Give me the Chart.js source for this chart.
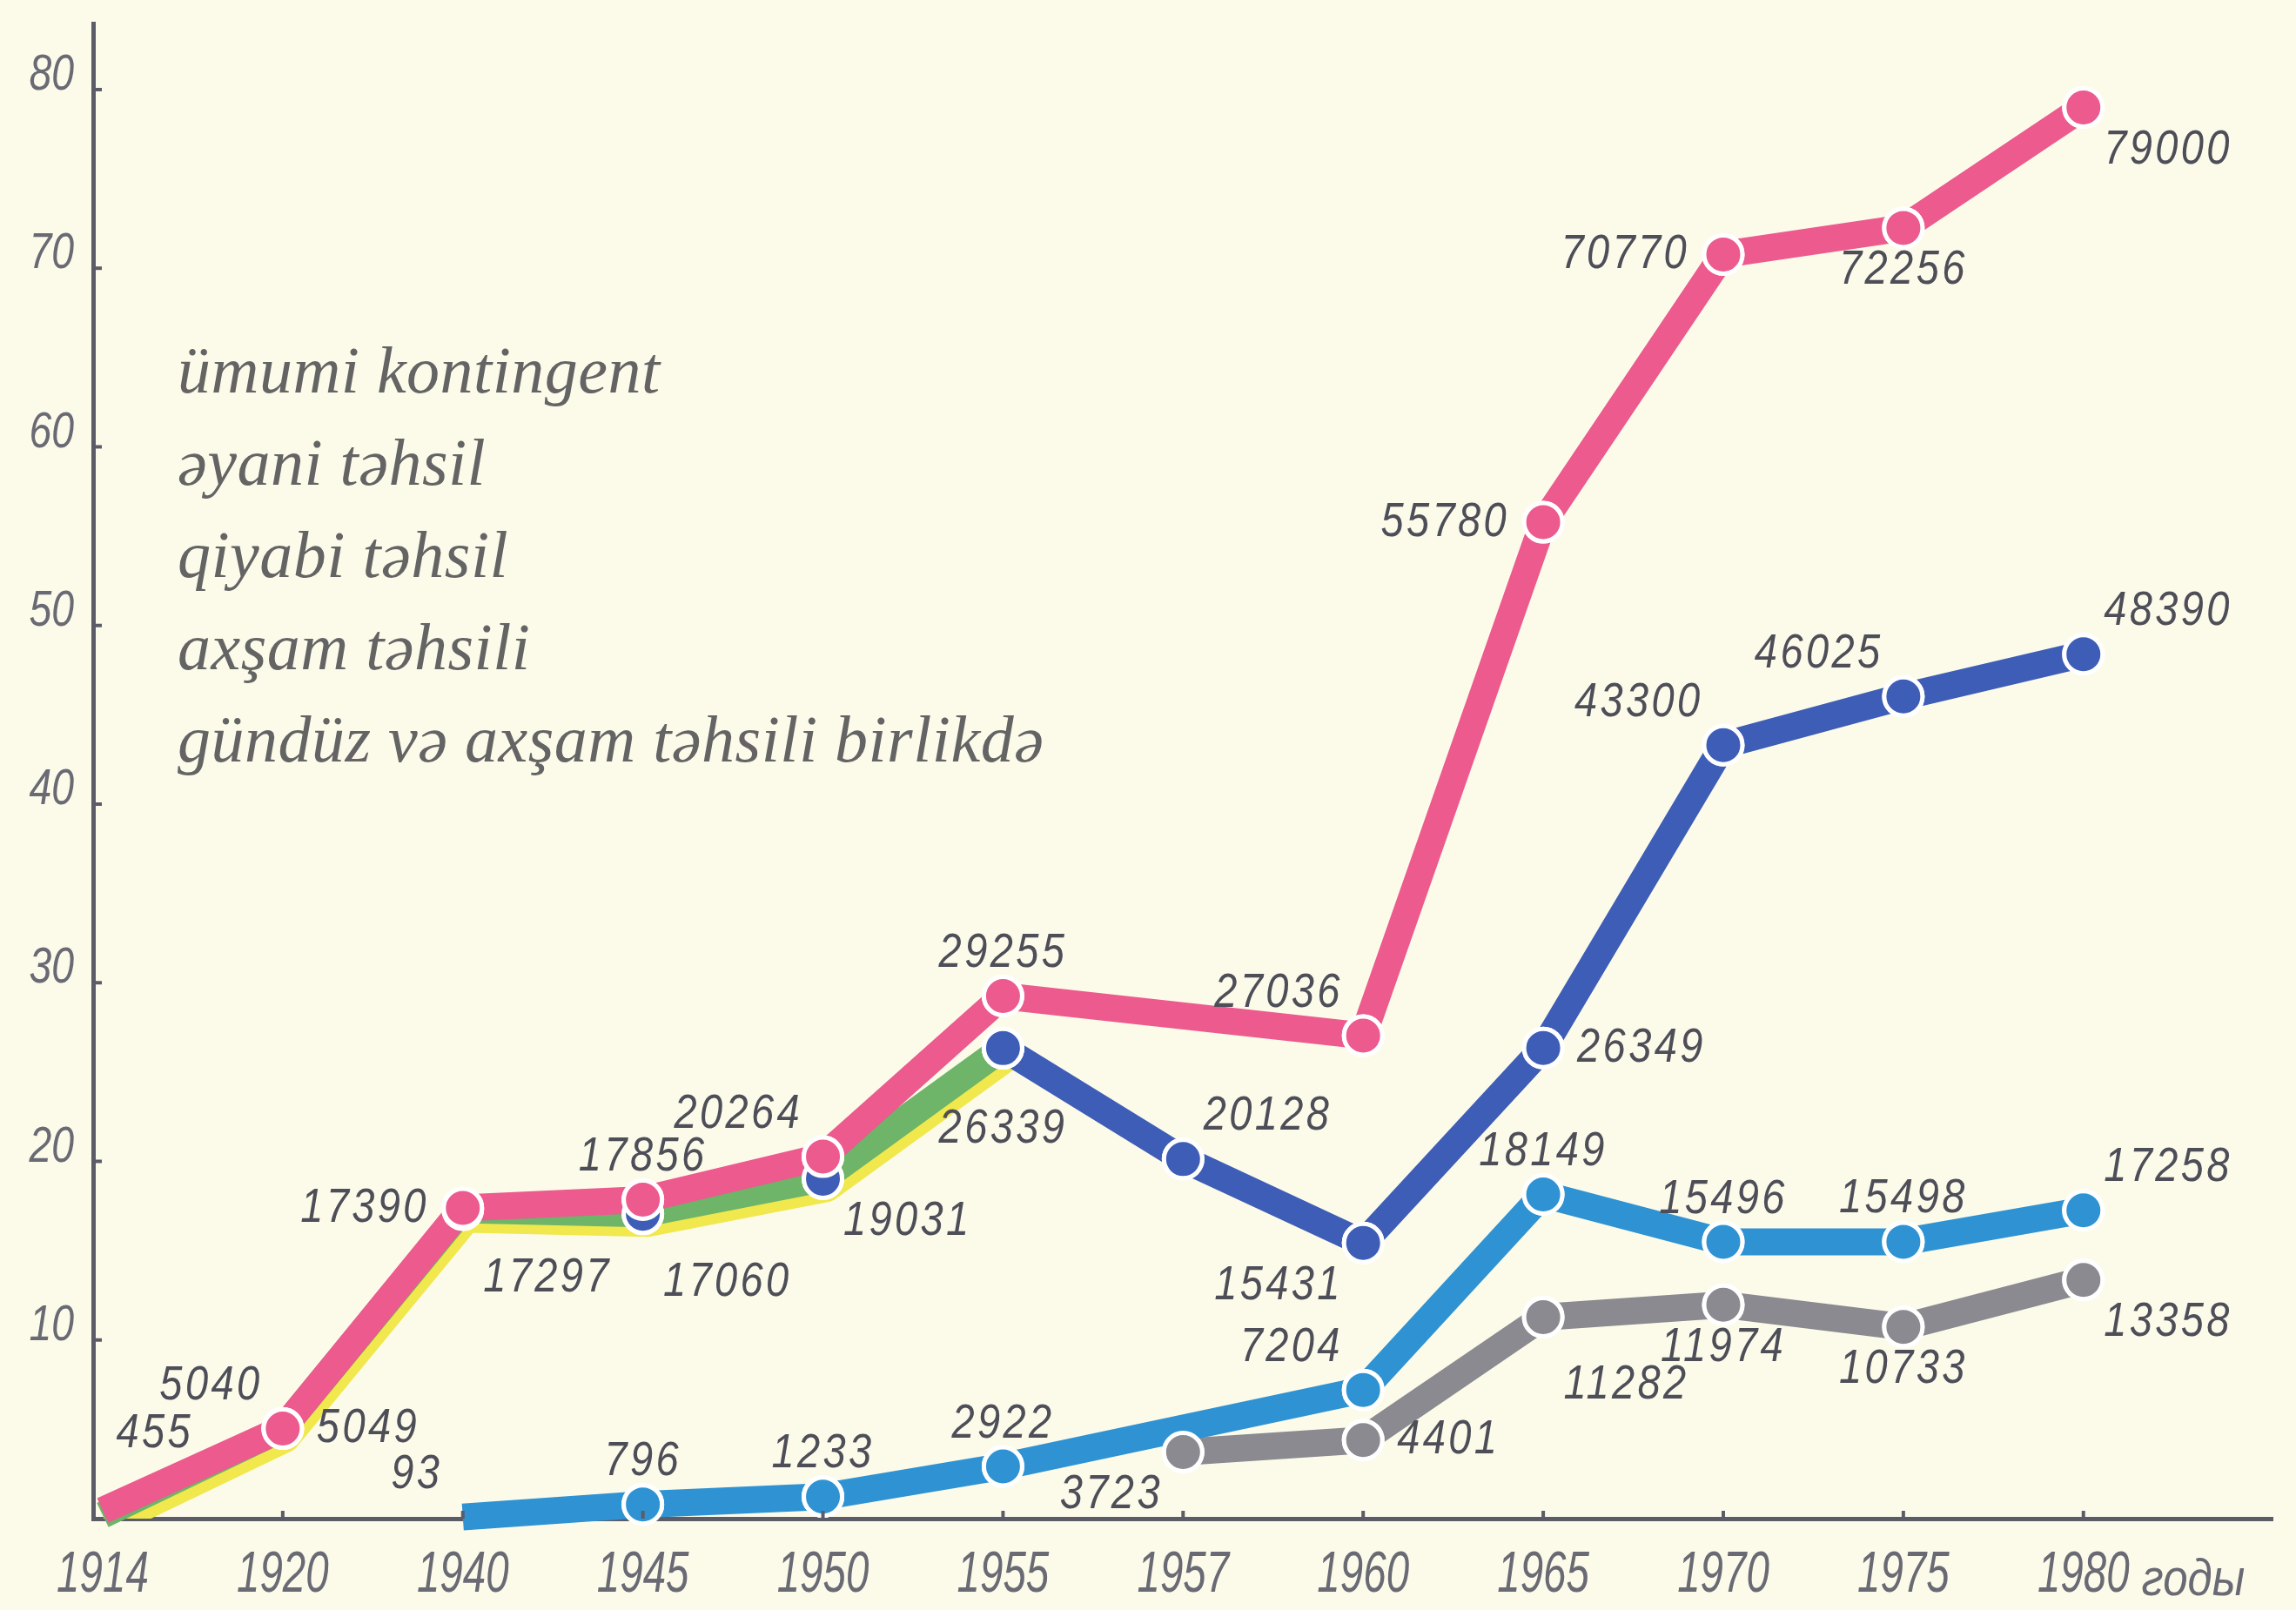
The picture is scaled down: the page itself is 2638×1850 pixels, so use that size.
<!DOCTYPE html>
<html>
<head>
<meta charset="utf-8">
<script src="https://cdn.jsdelivr.net/npm/chart.js@4.4.1/dist/chart.umd.min.js"></script>
<style>
  html, body { margin: 0; padding: 0; background: #fcfbea; }
  canvas { display: block; }
</style>
</head>
<body>
<canvas id="chart" width="2638" height="1850"></canvas>
<script>
// Students of higher education, thousands, by year
const years = ['1914', '1920', '1940', '1945', '1950', '1955', '1957', '1960', '1965', '1970', '1975', '1980'];

const totalEnrolment   = [0.455, 5.040, 17.390, 17.856, 20.264, 29.255, null, 27.036, 55.780, 70.770, 72.256, 79.000];
const fullTimeStudy    = [null, null, null, null, null, 26.339, 20.128, 15.431, 26.349, 43.300, 46.025, 48.390];
const correspondence   = [null, null, 0.093, 0.796, 1.233, 2.922, null, 7.204, 18.149, 15.496, 15.498, 17.258];
const eveningStudy     = [null, null, null, null, null, null, 3.723, 4.401, 11.282, 11.974, 10.733, 13.358];
const dayAndEvening    = [0.2, 5.049, 17.297, 17.060, 19.031, 26.339, null, null, null, null, null, null];

const seriesNames = ['ümumi kontingent', 'əyani təhsil', 'qiyabi təhsil', 'axşam təhsili', 'gündüz və axşam təhsili birlikdə'];
const yTickValues = [10, 20, 30, 40, 50, 60, 70, 80];
const yearsUnit = 'годы';

// where each value label sits around its marker (capitals sit farther out)
const labelAnchors = [
  ['NE', 'nw', 'w', 'n', 'nw', 'n', null, 'nw', 'w', 'w', 's', 'se'],
  [null, null, null, null, null, null, 'ne', 'sw', 'e', 'nw', 'nw', 'ne'],
  [null, null, 'nw', 'n', 'n', 'n', null, 'nw', 'n', 'n', 'n', 'ne'],
  [null, null, null, null, null, null, 'sw', 'e', 'SE', 's', 's', 'se'],
  [null, 'e', 'SE', 'SE', 'se', 'S', null, null, null, null, null, null]
];

const COLORS = {
  pink: '#ec5a8e', navy: '#3e5db6', sky: '#2f93d3', grey: '#8a8a90',
  green: '#6eb469', yellow: '#f0e84c', text: '#4e4e58', legend: '#646464',
  axis: '#5c5c68', ticks: '#6a6a74'
};
const R = 22, RING = 5, BAND = 31;
const SANS = '"Liberation Sans", "DejaVu Sans", sans-serif';

function firstIndex(arr) { return arr.findIndex(v => v !== null); }

function series(label, values, color, extra) {
  return Object.assign({
    label,
    data: values.map((v, i) => ({ x: i, y: v })),
    borderColor: color,
    backgroundColor: color,
    pointBackgroundColor: color,
    pointBorderColor: '#ffffff',
    borderWidth: BAND,
    pointBorderWidth: RING,
    pointRadius: R,
    borderCapStyle: 'butt',
    borderJoinStyle: 'bevel',
    tension: 0,
    spanGaps: true,
    fill: false,
    clip: false,
    _first: firstIndex(values)
  }, extra);
}

const noStartMarker = c => (c.dataIndex === c.dataset._first ? 0 : R);

const datasets = [
  series(seriesNames[0], totalEnrolment, COLORS.pink, { order: 0, pointRadius: noStartMarker }),
  series(seriesNames[1], fullTimeStudy, COLORS.navy, { order: 1 }),
  series(seriesNames[2], correspondence, COLORS.sky, { order: 2, pointRadius: noStartMarker }),
  series(seriesNames[3], eveningStudy, COLORS.grey, { order: 3 }),
  series(seriesNames[4], dayAndEvening, COLORS.green, {
    order: 4, pointBackgroundColor: COLORS.navy, pointRadius: noStartMarker, shadowColor: COLORS.yellow
  })
];

// narrow hand-lettered look: text squeezed horizontally around its anchor
function squeezedText(ctx, text, x, y, font, squeeze, align, baseline) {
  ctx.save();
  ctx.font = font;
  ctx.textAlign = align;
  ctx.textBaseline = baseline;
  ctx.translate(x, y);
  ctx.scale(squeeze, 1);
  ctx.fillText(text, 0, 0);
  ctx.restore();
}

// paper tone behind everything
const paper = {
  id: 'paper',
  beforeDraw(chart) {
    const { ctx, width, height } = chart;
    ctx.save();
    ctx.fillStyle = '#fcfbea';
    ctx.fillRect(0, 0, width, height);
    ctx.restore();
  }
};

// yellow band offset under the combined day/evening line
const bandShadow = {
  id: 'bandShadow',
  beforeDatasetDraw(chart, args) {
    const ds = chart.data.datasets[args.index];
    if (!ds.shadowColor) return;
    const pts = args.meta.data.filter(p => !p.skip);
    if (pts.length < 2) return;
    const { ctx, chartArea: a } = chart;
    ctx.save();
    ctx.beginPath();
    ctx.rect(a.left, a.top, a.right - a.left, a.bottom - a.top);
    ctx.clip();
    ctx.translate(6, 14);
    ctx.beginPath();
    pts.forEach((p, i) => (i ? ctx.lineTo(p.x, p.y) : ctx.moveTo(p.x, p.y)));
    ctx.strokeStyle = ds.shadowColor;
    ctx.lineWidth = BAND - 6;
    ctx.lineCap = 'butt';
    ctx.lineJoin = 'bevel';
    ctx.stroke();
    ctx.restore();
  }
};

// markers are laid over every band, then value labels are written
const markersAndLabels = {
  id: 'markersAndLabels',
  afterDatasetsDraw(chart) {
    const { ctx, chartArea } = chart;
    [3, 2, 4, 1, 0].forEach(di => {
      chart.getDatasetMeta(di).data.forEach(el => el.draw(ctx, chartArea));
    });
    const A = {
      n: [0, -1, 'center'], s: [0, 1, 'center'], S: [0, 1.9, 'center'],
      e: [1, 0, 'left'], w: [-1, 0, 'right'],
      ne: [0.6, -1, 'left'], NE: [0.4, -1.8, 'left'], nw: [-0.6, -1, 'right'],
      se: [0.6, 1, 'left'], SE: [0.6, 1.6, 'left'], sw: [-0.6, 1, 'right']
    };
    ctx.save();
    ctx.fillStyle = COLORS.text;
    ctx.letterSpacing = '4px';
    chart.data.datasets.forEach((ds, di) => {
      const meta = chart.getDatasetMeta(di);
      ds.data.forEach((d, i) => {
        const code = labelAnchors[di][i];
        if (!code || d.y === null) return;
        const el = meta.data[i];
        const [ax, ay, align] = A[code];
        squeezedText(ctx, String(Math.round(d.y * 1000)),
          el.x + ax * (R + RING + 12), el.y + ay * (R + RING + 22),
          'italic 56px ' + SANS, 0.84, align, 'middle');
      });
    });
    ctx.restore();
  }
};

// series names block, axis tick labels, inner tick marks and the unit after the last year
const annotations = {
  id: 'annotations',
  afterDraw(chart) {
    const { ctx } = chart;
    const xs = chart.scales.x, ys = chart.scales.y;
    ctx.save();
    ctx.font = 'italic 76px "Liberation Serif", "DejaVu Serif", serif';
    ctx.fillStyle = COLORS.legend;
    ctx.letterSpacing = '0.5px';
    ctx.textAlign = 'left';
    ctx.textBaseline = 'alphabetic';
    chart.data.datasets.forEach((ds, i) => {
      ctx.fillText(ds.label, 204, 451 + i * 106);
    });
    ctx.letterSpacing = '0px';

    ctx.strokeStyle = COLORS.axis;
    ctx.lineWidth = 4;
    ctx.fillStyle = COLORS.ticks;
    ys.ticks.forEach(t => {
      const y = ys.getPixelForValue(t.value);
      ctx.beginPath();
      ctx.moveTo(ys.right, y);
      ctx.lineTo(ys.right + 10, y);
      ctx.stroke();
      squeezedText(ctx, String(t.value), ys.right - 22, y - 16, 'italic 58px ' + SANS, 0.8, 'right', 'middle');
    });
    xs.ticks.forEach(t => {
      const x = xs.getPixelForValue(t.value);
      if (t.value > 0) {
        ctx.beginPath();
        ctx.moveTo(x, xs.top);
        ctx.lineTo(x, xs.top - 9);
        ctx.stroke();
      }
      squeezedText(ctx, years[t.value], x, xs.top + 66, 'italic 66px ' + SANS, 0.72, 'center', 'middle');
    });

    const last = years.length - 1;
    ctx.font = 'italic 66px ' + SANS;
    const w = ctx.measureText(years[last]).width * 0.72;
    squeezedText(ctx, yearsUnit, xs.getPixelForValue(last) + w / 2 + 14, xs.top + 66 + 22,
      'italic 60px ' + SANS, 0.85, 'left', 'alphabetic');
    ctx.restore();
  }
};

new Chart(document.getElementById('chart'), {
  type: 'line',
  data: { datasets },
  options: {
    responsive: false,
    devicePixelRatio: 1,
    animation: false,
    events: [],
    layout: { padding: { top: 20, left: 0, right: 0, bottom: 0 } },
    plugins: { legend: { display: false }, tooltip: { enabled: false } },
    scales: {
      x: {
        type: 'linear',
        min: -0.053,
        max: 12.05,
        afterBuildTicks: s => { s.ticks = years.map((_, i) => ({ value: i })); },
        afterFit: s => { s.height = 105; s.paddingLeft = 0; s.paddingRight = 0; },
        grid: { display: false },
        border: { display: true, color: COLORS.axis, width: 5 },
        ticks: { display: false }
      },
      y: {
        type: 'linear',
        min: 0,
        max: 83.7,
        afterBuildTicks: s => { s.ticks = yTickValues.map(v => ({ value: v })); },
        afterFit: s => { s.width = 107; s.paddingTop = 0; s.paddingBottom = 0; },
        grid: { display: false },
        border: { display: true, color: COLORS.axis, width: 5 },
        ticks: { display: false }
      }
    }
  },
  plugins: [paper, bandShadow, markersAndLabels, annotations]
});
</script>
</body>
</html>
